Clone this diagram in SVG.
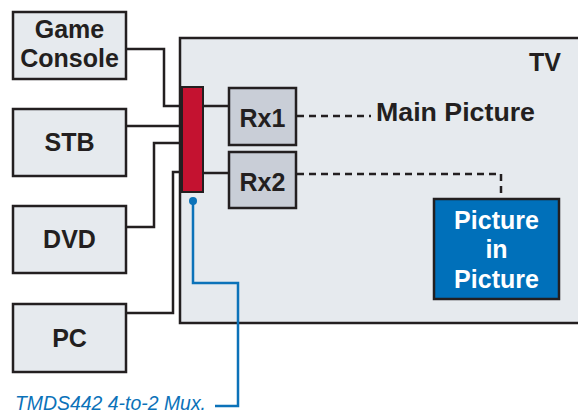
<svg xmlns="http://www.w3.org/2000/svg" width="578" height="415" viewBox="0 0 578 415">
<style>
.box{fill:#E6EAEE;stroke:#231F20;stroke-width:2.5}
.rx{fill:#C9CED7;stroke:#231F20;stroke-width:2.5}
.lbl{font-family:"Liberation Sans",Arial,sans-serif;font-weight:bold;font-size:25px;fill:#231F20;text-anchor:middle}
.wire{fill:none;stroke:#231F20;stroke-width:2.5}
.dash{fill:none;stroke:#231F20;stroke-width:2.5;stroke-dasharray:7,5}
.blue{fill:none;stroke:#0B72B9;stroke-width:2.5}
</style>
<rect width="578" height="415" fill="#FFFFFF"/>
<g id="tv">
<rect x="180" y="38" width="420" height="285" fill="#E6EAEE" stroke="#231F20" stroke-width="2.5"/>
<text class="lbl" x="545" y="71">TV</text>
</g>
<g id="connectors">
<polyline class="wire" points="126,49 164,49 164,106 182,106"/>
<line class="wire" x1="126" y1="126" x2="182" y2="126"/>
<polyline class="wire" points="182,143 154,143 154,227 126,227"/>
<polyline class="wire" points="182,172 173,172 173,313 126,313"/>
<line class="wire" x1="203" y1="106" x2="229" y2="106"/>
<line class="wire" x1="203" y1="173" x2="229" y2="173"/>
<line class="dash" x1="297" y1="116" x2="371" y2="116"/>
<polyline class="dash" points="297,174 501,174 501,195"/>
<polyline class="blue" points="193,201 193,283 238,283 238,406 215,406"/>
<circle cx="193" cy="201" r="4" fill="#0B72B9"/>
</g>
<g id="game-console">
<rect class="box" x="13" y="12" width="113" height="67"/>
<text class="lbl" x="69.5" y="38">Game</text>
<text class="lbl" x="69.5" y="67">Console</text>
</g>
<g id="stb">
<rect class="box" x="13" y="109" width="113" height="67"/>
<text class="lbl" x="69.5" y="151">STB</text>
</g>
<g id="dvd">
<rect class="box" x="13" y="206" width="113" height="67"/>
<text class="lbl" x="69.5" y="248">DVD</text>
</g>
<g id="pc">
<rect class="box" x="13" y="304" width="113" height="68"/>
<text class="lbl" x="69.5" y="347">PC</text>
</g>
<g id="mux">
<rect x="182" y="87" width="21" height="105" fill="#C41230" stroke="#231F20" stroke-width="2"/>
</g>
<g id="rx1">
<rect class="rx" x="229" y="88" width="67" height="57"/>
<text class="lbl" x="262.5" y="127">Rx1</text>
</g>
<g id="rx2">
<rect class="rx" x="229" y="152" width="67" height="56"/>
<text class="lbl" x="262.5" y="191">Rx2</text>
</g>
<g id="main-picture">
<text class="lbl" x="376" y="121" style="text-anchor:start" textLength="159" lengthAdjust="spacingAndGlyphs">Main Picture</text>
</g>
<g id="pip">
<rect x="434" y="199" width="125" height="100" fill="#0070BA" stroke="#231F20" stroke-width="2.5"/>
<text class="lbl" x="496.5" y="229" style="fill:#FFFFFF">Picture</text>
<text class="lbl" x="496.5" y="258" style="fill:#FFFFFF">in</text>
<text class="lbl" x="496.5" y="288" style="fill:#FFFFFF">Picture</text>
</g>
<g id="mux-label">
<text x="15" y="410" font-family="'Liberation Sans',Arial,sans-serif" font-style="italic" font-size="20" fill="#0B72B9" textLength="191" lengthAdjust="spacingAndGlyphs">TMDS442 4-to-2 Mux.</text>
</g>
</svg>
